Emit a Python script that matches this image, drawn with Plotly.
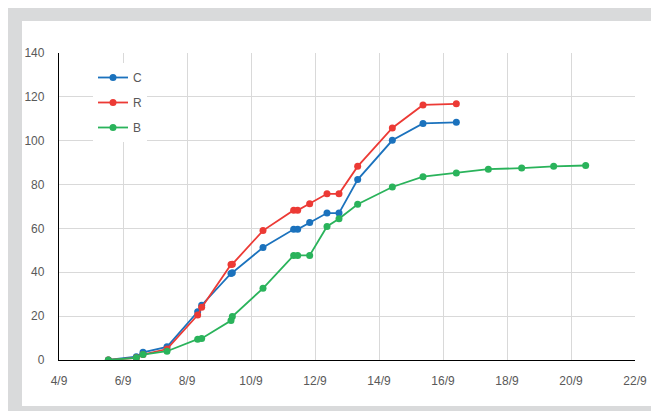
import plotly.graph_objects as go

# Shared sample times for series C and R
times_cr = [
    "2020-09-05 13:00", "2020-09-06 10:00", "2020-09-06 15:00", "2020-09-07 09:00",
    "2020-09-08 08:00", "2020-09-08 11:00", "2020-09-09 09:00", "2020-09-09 10:00",
    "2020-09-10 09:00", "2020-09-11 08:00", "2020-09-11 11:00", "2020-09-11 20:00",
    "2020-09-12 09:00", "2020-09-12 18:00", "2020-09-13 08:00", "2020-09-14 10:00",
    "2020-09-15 09:00", "2020-09-16 10:00",
]
values_c = [0, 1.5, 3.5, 6, 22, 25, 39.5, 39.8, 51.3, 59.6, 59.6, 62.7, 67, 67, 82.3, 100.2, 107.9, 108.4]
values_r = [0, 1, 2.5, 5, 20.5, 24, 43.5, 43.7, 59, 68.3, 68.3, 71.3, 75.8, 75.8, 88.3, 105.8, 116.3, 116.8]

times_b = times_cr + ["2020-09-17 10:00", "2020-09-18 11:00", "2020-09-19 11:00", "2020-09-20 11:00"]
values_b = [0, 1, 2.5, 4, 9.5, 9.8, 18, 19.8, 32.7, 47.7, 47.7, 47.7, 60.9, 64.4, 71, 78.9, 83.6, 85.3,
            87, 87.5, 88.3, 88.7]

series_names = ["C", "R", "B"]
colors = ["#1b72bd", "#ec3a35", "#2ab35b"]

fig = go.Figure()
for i, (name, xs, ys) in enumerate(zip(series_names, [times_cr, times_cr, times_b],
                                       [values_c, values_r, values_b])):
    fig.add_trace(go.Scatter(
        x=xs, y=ys, name=name, mode="lines+markers",
        line=dict(color=colors[i], width=1.8),
        marker=dict(color=colors[i], size=7),
        legendgroup=name,
    ))

# Figure is placed at an 8px page offset; coordinates below are in figure pixels
W, H = 651, 403
L, R, T, B = 51, 24, 45, 51
pw, ph = W - L - R, H - T - B

def px(x):
    return (x - L) / pw

def py(y):
    return (H - B - y) / ph

shapes = [
    dict(type="rect", xref="paper", yref="paper", layer="below",
         x0=px(14), x1=px(646), y0=py(398), y1=py(13),
         fillcolor="white", line=dict(width=0)),
]

font_family = "Liberation Sans, Arial, sans-serif"

fig.update_layout(
    width=W, height=H,
    margin=dict(l=L, r=R, t=T, b=B, pad=0),
    paper_bgcolor="#d9dadb",
    plot_bgcolor="rgba(0,0,0,0)",
    shapes=shapes,
    font=dict(family=font_family, size=12, color="#595959"),
    showlegend=True,
    legend=dict(
        x=px(85), y=py(55), xanchor="left", yanchor="top",
        bgcolor="white", borderwidth=0,
        font=dict(size=12, color="#595959"),
        itemwidth=30, tracegroupgap=6, traceorder="grouped",
    ),
    xaxis=dict(
        type="date",
        range=["2020-09-04", "2020-09-22"],
        tick0="2020-09-04", dtick=2 * 86400000,
        tickformat="%-d/%-m",
        showgrid=True, gridcolor="#d9d9d9", gridwidth=1,
        showline=True, linecolor="black", linewidth=1.3,
        ticks="outside", ticklen=9, tickcolor="rgba(0,0,0,0)",
        zeroline=False,
        tickfont=dict(size=12, color="#595959"),
    ),
    yaxis=dict(
        range=[0, 140], dtick=20,
        showgrid=True, gridcolor="#d9d9d9", gridwidth=1,
        showline=True, linecolor="black", linewidth=1.3,
        ticks="outside", ticklen=11, tickcolor="rgba(0,0,0,0)",
        zeroline=False,
        tickfont=dict(size=12, color="#595959"),
    ),
)

fig.write_html("out.html")
